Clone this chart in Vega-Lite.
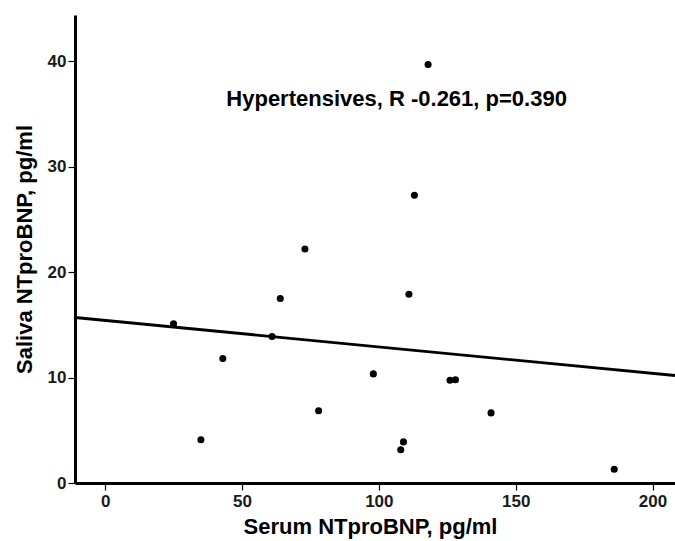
{
  "$schema": "https://vega.github.io/schema/vega-lite/v6.json",
  "width": 600,
  "height": 468,
  "autosize": {"type": "none"},
  "padding": {"left": 75, "top": 15, "right": 0, "bottom": 58},
  "background": "white",
  "config": {
    "view": {"stroke": null},
    "font": "Liberation Sans",
    "axis": {
      "grid": false,
      "domainColor": "black",
      "domainWidth": 3,
      "tickColor": "black",
      "tickWidth": 1.2,
      "tickSize": 7,
      "labelFont": "Liberation Sans",
      "labelFontSize": 17,
      "labelFontWeight": "bold",
      "labelColor": "#1a1a1a",
      "titleFont": "Liberation Sans",
      "titleFontSize": 22,
      "titleFontWeight": "bold",
      "titleColor": "black"
    }
  },
  "datasets": {
    "pts": [
      {"serum": 25, "saliva": 15.1},
      {"serum": 35, "saliva": 4.1},
      {"serum": 43, "saliva": 11.8},
      {"serum": 61, "saliva": 13.9},
      {"serum": 64, "saliva": 17.5},
      {"serum": 73, "saliva": 22.2},
      {"serum": 78, "saliva": 6.85},
      {"serum": 98, "saliva": 10.35},
      {"serum": 108, "saliva": 3.15},
      {"serum": 109, "saliva": 3.9},
      {"serum": 111, "saliva": 17.9},
      {"serum": 113, "saliva": 27.3},
      {"serum": 118, "saliva": 39.7},
      {"serum": 126, "saliva": 9.75},
      {"serum": 128, "saliva": 9.8},
      {"serum": 141, "saliva": 6.65},
      {"serum": 186, "saliva": 1.3}
    ],
    "fit": [
      {"serum": -11, "saliva": 15.7},
      {"serum": 208.2, "saliva": 10.2}
    ],
    "note": [
      {"serum": 106.5, "saliva": 36.4, "label": "Hypertensives, R -0.261, p=0.390"}
    ]
  },
  "layer": [
    {
      "data": {"name": "fit"},
      "mark": {"type": "line", "color": "black", "strokeWidth": 2.8, "clip": true},
      "encoding": {
        "x": {"field": "serum", "type": "quantitative",
              "scale": {"domain": [-11, 208.2], "nice": false, "zero": false},
              "axis": {"values": [0, 50, 100, 150, 200], "title": "Serum NTproBNP, pg/ml", "labelPadding": 3, "titleX": 295, "titlePadding": 7}},
        "y": {"field": "saliva", "type": "quantitative",
              "scale": {"domain": [0, 44.4], "nice": false},
              "axis": {"values": [0, 10, 20, 30, 40], "title": "Saliva NTproBNP, pg/ml", "labelPadding": 2, "titlePadding": 11}}
      }
    },
    {
      "data": {"name": "pts"},
      "mark": {"type": "point", "filled": true, "shape": "circle", "color": "black", "opacity": 1, "size": 50},
      "encoding": {
        "x": {"field": "serum", "type": "quantitative"},
        "y": {"field": "saliva", "type": "quantitative"}
      }
    },
    {
      "data": {"name": "note"},
      "mark": {"type": "text", "font": "Liberation Sans", "fontSize": 22, "fontWeight": "bold", "color": "black", "align": "center", "baseline": "middle"},
      "encoding": {
        "x": {"field": "serum", "type": "quantitative"},
        "y": {"field": "saliva", "type": "quantitative"},
        "text": {"field": "label"}
      }
    }
  ]
}
